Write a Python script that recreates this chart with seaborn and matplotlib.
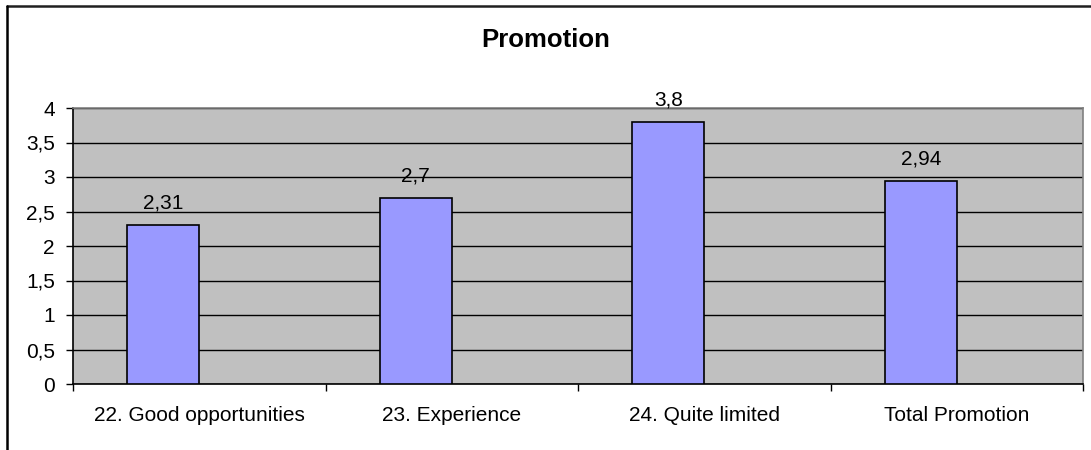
import pandas as pd
import numpy as np
import matplotlib
matplotlib.use("Agg")
import matplotlib.pyplot as plt
from matplotlib.ticker import FuncFormatter, FixedLocator
from matplotlib.lines import Line2D
import seaborn as sns

# chart data
items = ["22. Good opportunities", "23. Experience", "24. Quite limited", "Total Promotion"]
scores = [2.31, 2.7, 3.8, 2.94]
y_ticks = [0, 0.5, 1, 1.5, 2, 2.5, 3, 3.5, 4]
chart_title = "Promotion"

# Excel-style clustered chart: second series is empty, so bars sit left of centre
df = pd.DataFrame({
    "item": items * 2,
    "score": scores + [np.nan] * len(scores),
    "series": ["Promotion"] * len(items) + ["blank"] * len(items),
})

sns.set_style("white")
plt.rcParams["font.family"] = ["Liberation Sans", "DejaVu Sans"]
plt.rcParams["text.color"] = "black"
plt.rcParams["xtick.color"] = "black"
plt.rcParams["ytick.color"] = "black"

fig = plt.figure(figsize=(10.91, 4.5), dpi=100)
ax = fig.add_axes([73 / 1091, 66 / 450, 1010 / 1091, 276 / 450])
ax.set_facecolor("#C0C0C0")

sns.barplot(data=df, x="item", y="score", hue="series", hue_order=["Promotion", "blank"],
            palette={"Promotion": "#9999FF", "blank": "#9999FF"}, order=items,
            width=0.57, dodge=True, errorbar=None, edgecolor="black", linewidth=1.2,
            saturation=1, legend=False, ax=ax, zorder=3)

ax.bar_label(ax.containers[0], labels=[f"{v:g}".replace(".", ",") for v in scores],
             padding=9, fontsize=15, color="black")

ax.set_ylim(0, 4)
ax.set_xlim(-0.5, len(items) - 0.5)
ax.yaxis.set_major_locator(FixedLocator(y_ticks))
ax.yaxis.set_major_formatter(FuncFormatter(lambda v, _: f"{v:g}".replace(".", ",")))
ax.grid(axis="y", color="black", linewidth=1.0, zorder=1)
ax.set_axisbelow(True)

# category boundary ticks on the x axis
ax.xaxis.set_minor_locator(FixedLocator(np.arange(-0.5, len(items), 1.0)))
ax.tick_params(axis="x", which="major", length=0, pad=16, labelsize=15, labelcolor="black")
ax.tick_params(axis="x", which="minor", length=5, width=1, color="black", direction="out",
               bottom=True)
ax.tick_params(axis="y", length=5, width=1, color="black", direction="out", pad=8, labelsize=15,
               labelcolor="black", left=True)

ax.set_xlabel("")
ax.set_ylabel("")

for side in ["top", "right"]:
    ax.spines[side].set_color("#808080")
    ax.spines[side].set_linewidth(1.2)
for side in ["left", "bottom"]:
    ax.spines[side].set_color("black")
    ax.spines[side].set_linewidth(1.2)

fig.text(0.5, 1 - 40 / 450, chart_title, ha="center", va="center", fontsize=18.5,
         fontweight="bold", color="black")

# outer chart border (top and left edges visible in the reference)
fig.add_artist(Line2D([7 / 1091, 1.0], [1 - 6 / 450] * 2, transform=fig.transFigure,
                      color="#202020", linewidth=1.8))
fig.add_artist(Line2D([7 / 1091] * 2, [0.0, 1 - 6 / 450], transform=fig.transFigure,
                      color="black", linewidth=1.8))

fig.savefig("out.png", dpi=100, facecolor="white")
